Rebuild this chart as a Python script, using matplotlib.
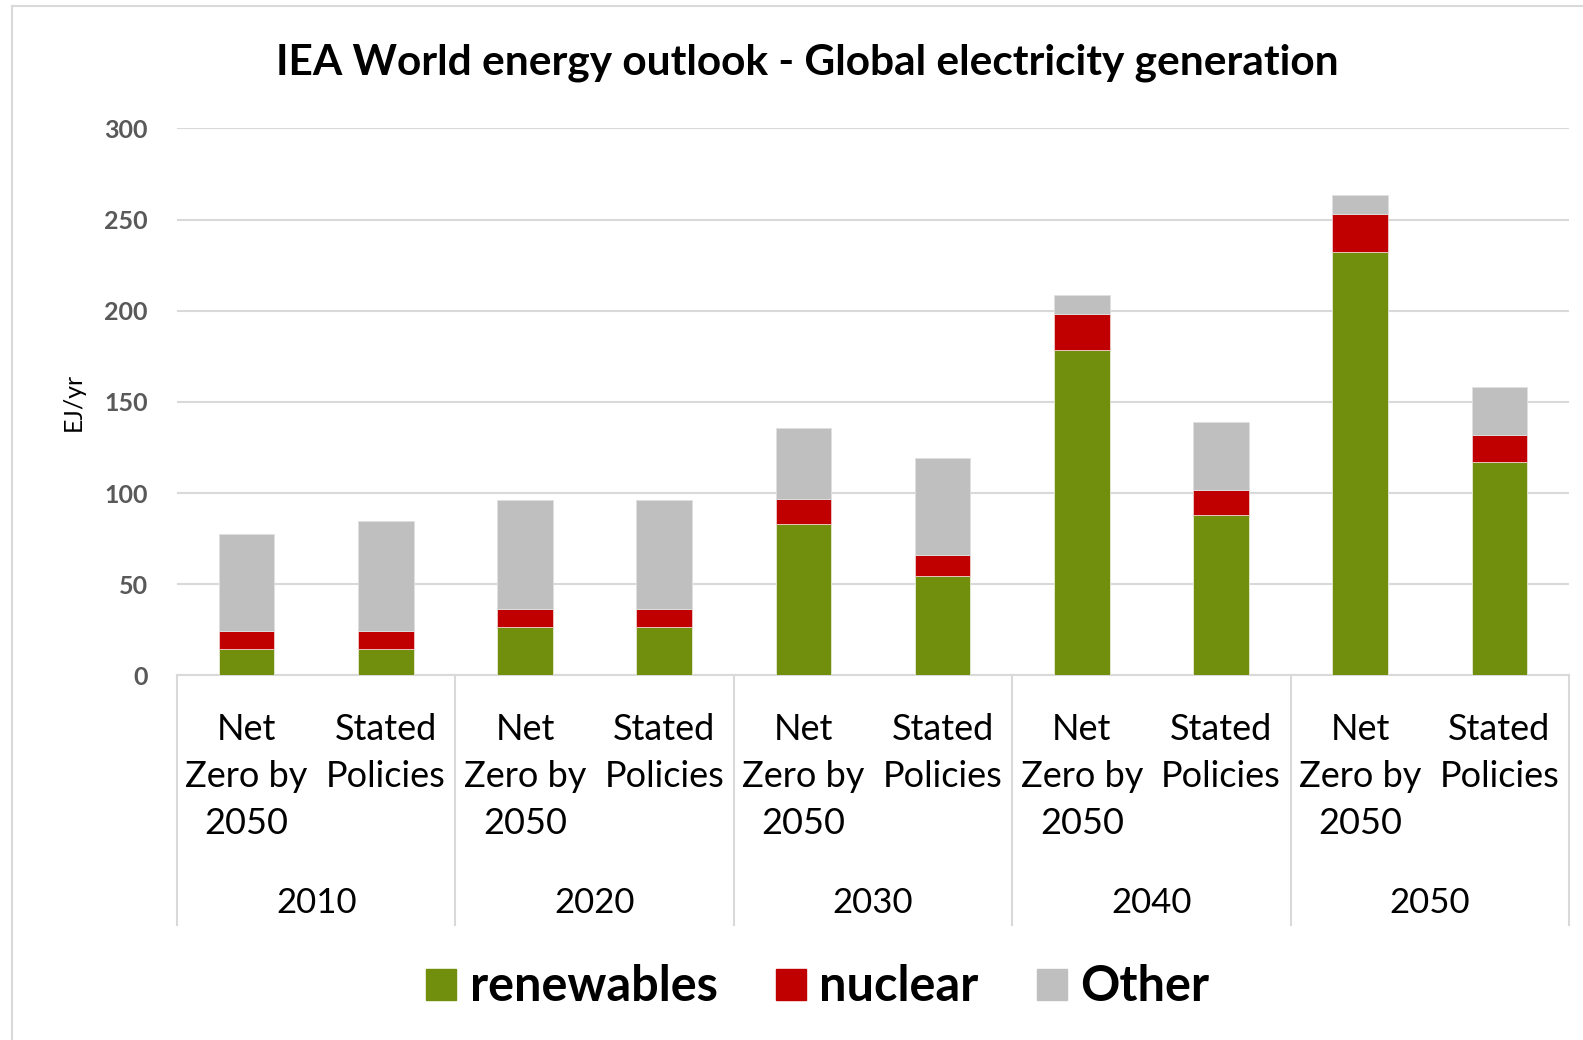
import matplotlib
matplotlib.use("Agg")
import matplotlib.pyplot as plt
from matplotlib.lines import Line2D
from matplotlib.patches import Patch

plt.rcParams['font.family'] = ['Lato', 'DejaVu Sans']

years = ['2010', '2020', '2030', '2040', '2050']
scenarios = ['Net\nZero by\n2050', 'Stated\nPolicies']

# values, order: 2010 NZ, 2010 SP, 2020 NZ, ...
renewables = [14.5, 14.5, 26.8, 26.8, 82.8, 54.3, 178.7, 88.1, 232.1, 116.8]
nuclear = [10.1, 10.1, 9.6, 9.6, 14.0, 11.6, 19.5, 13.8, 20.8, 15.1]
other = [52.8, 59.8, 60.0, 60.0, 38.7, 53.4, 10.4, 36.8, 10.8, 26.3]

green = '#718f0d'
red = '#c00000'
grey = '#bfbfbf'
line_col = '#d9d9d9'

fig = plt.figure(figsize=(15.83, 10.40), dpi=100)
ax = fig.add_axes([0.1118, 0.3506, 0.8794, 0.526])

x = list(range(len(renewables)))
bottom2 = [r + n for r, n in zip(renewables, nuclear)]
w = 0.40
ax.bar(x, renewables, w, color=green, edgecolor='#e6ecd5', linewidth=0.6, zorder=3)
ax.bar(x, nuclear, w, bottom=renewables, color=red, edgecolor='#eecccc', linewidth=0.6, zorder=3)
ax.bar(x, other, w, bottom=bottom2, color=grey, edgecolor='#e0e0e0', linewidth=0.6, zorder=3)

ax.set_xlim(-0.5, len(x) - 0.5)
ax.set_ylim(0, 300)
ax.set_yticks([0, 50, 100, 150, 200, 250, 300])
ax.tick_params(axis='y', length=0, pad=21, labelsize=18, labelcolor='#595959')
for lab in ax.get_yticklabels():
    lab.set_fontweight('bold')
ax.set_xticks([])
ax.grid(axis='y', color=line_col, linewidth=1.5, zorder=0)
for s in ['top', 'right', 'left']:
    ax.spines[s].set_visible(False)
ax.spines['bottom'].set_color(line_col)
ax.spines['bottom'].set_linewidth(1.5)

ax.set_ylabel('EJ/yr', fontsize=18, labelpad=14)

# multi-level category axis
trans = ax.get_xaxis_transform()
for i in range(len(x)):
    ax.text(i, -0.069, scenarios[i % 2], transform=trans, ha='center', va='top',
            fontsize=26, linespacing=1.52, multialignment='center')
for g, yr in enumerate(years):
    ax.text(2 * g + 0.5, -0.417, yr, transform=trans, ha='center', va='center', fontsize=25)
for b in range(len(years) + 1):
    ax.add_line(Line2D([2 * b - 0.5, 2 * b - 0.5], [0, -0.456], transform=trans,
                       color=line_col, linewidth=1.5, clip_on=False))

fig.text(0.510, 0.940, 'IEA World energy outlook - Global electricity generation',
         ha='center', va='center', fontsize=30.5, fontweight='bold')

handles = [Patch(color=green), Patch(color=red), Patch(color=grey)]
fig.legend(handles, ['renewables', 'nuclear', 'Other'], loc='center',
           bbox_to_anchor=(0.5165, 0.051), ncol=3, frameon=False,
           prop={'size': 35, 'weight': 'bold'}, handlelength=0.62, handleheight=0.62,
           handletextpad=0.27, columnspacing=1.2)

# chart border
fig.add_artist(Line2D([0.0076, 0.0076], [0, 0.9942], color=line_col, linewidth=1.5))
fig.add_artist(Line2D([0.0076, 1], [0.9942, 0.9942], color=line_col, linewidth=1.5))

plt.savefig('out.png', dpi=100)
plt.close()
